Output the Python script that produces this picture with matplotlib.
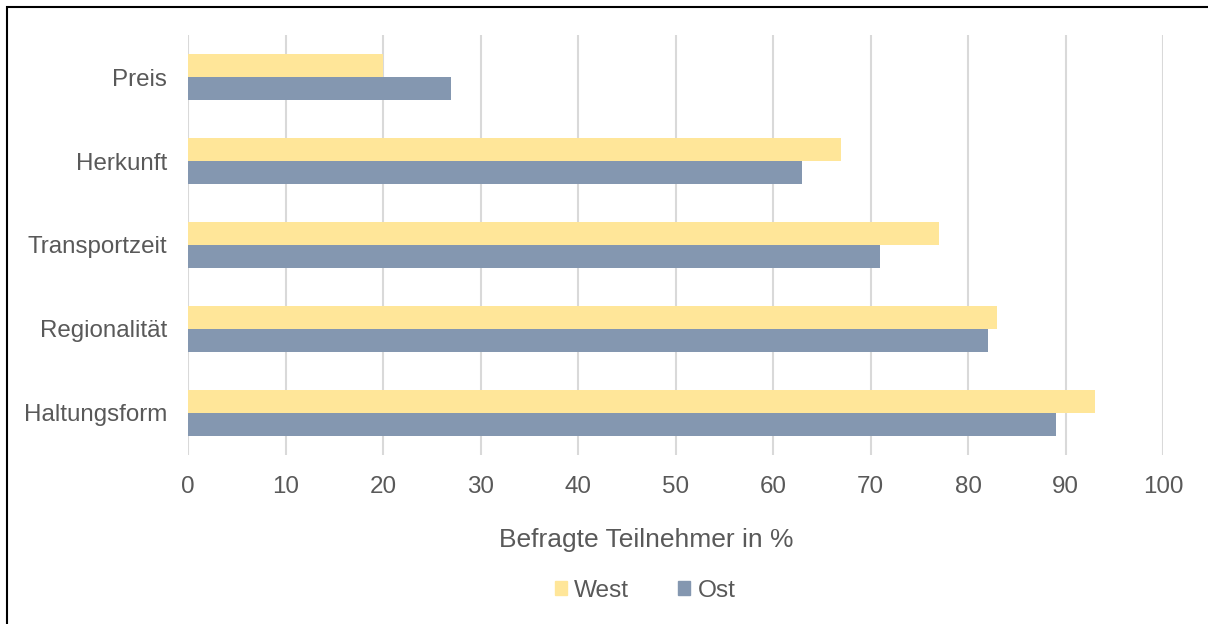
import numpy as np
import matplotlib.pyplot as plt
from matplotlib.patches import Patch, Rectangle

categories = ["Preis", "Herkunft", "Transportzeit", "Regionalität", "Haltungsform"]
west = [20, 67, 77, 83, 93]
ost = [27, 63, 71, 82, 89]

plt.rcParams['font.family'] = ['Liberation Sans', 'DejaVu Sans']
text_col = '#595959'
west_col = '#FFE699'
ost_col = '#8497B0'

fig = plt.figure(figsize=(12.08, 6.24), dpi=100)
ax = fig.add_axes([188/1208, 1 - 455/624, 975/1208, 420/624])

y = np.arange(len(categories))
h = 0.27
ax.barh(y - h/2, west, height=h, color=west_col, label='West', zorder=2)
ax.barh(y + h/2, ost, height=h, color=ost_col, label='Ost', zorder=2)

ax.set_ylim(len(categories) - 0.5, -0.5)
ax.set_xlim(0, 100)
ax.set_xticks(range(0, 101, 10))
ax.set_yticks(y)
ax.set_yticklabels(categories)
ax.tick_params(length=0, labelsize=17.4, colors=text_col)
ax.tick_params(axis='y', pad=15)
ax.tick_params(axis='x', pad=15)
ax.grid(axis='x', color='#D9D9D9', linewidth=1.5, zorder=0)
for s in ax.spines.values():
    s.set_visible(False)
ax.set_xlabel('Befragte Teilnehmer in %', fontsize=19, color=text_col, labelpad=22,
              x=0.47, ha='center')

handles = [Patch(color=west_col, label='West'), Patch(color=ost_col, label='Ost')]
fig.legend(handles=handles, loc='center', bbox_to_anchor=(645/1208, 1 - 591/624),
           ncol=2, frameon=False, fontsize=17.6, labelcolor=text_col,
           handlelength=0.5, handleheight=0.5, handletextpad=0.3, columnspacing=2.0)

# outer frame
fig.patches.append(Rectangle((7/1208, -0.05), 1.1, 1 - 7/624 + 0.05, transform=fig.transFigure,
                             fill=False, edgecolor='black', linewidth=1.5))

fig.savefig('out.png', dpi=100)
